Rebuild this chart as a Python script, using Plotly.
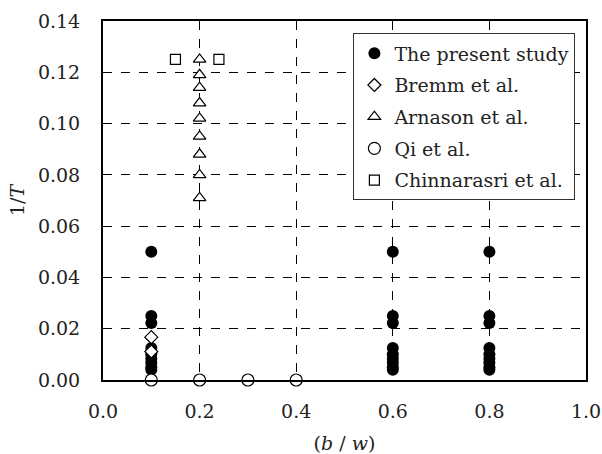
import plotly.graph_objects as go

# Data
present_x = [0.1]*9 + [0.6]*9 + [0.8]*9
present_y = [0.05, 0.025, 0.0222, 0.0125, 0.01, 0.0083, 0.0067, 0.005, 0.004]*3
bremm_x = [0.1, 0.1]
bremm_y = [0.0167, 0.0111]
arnason_x = [0.2]*9
arnason_y = [0.125, 0.119, 0.114, 0.108, 0.102, 0.095, 0.088, 0.080, 0.071]
qi_x = [0.1, 0.2, 0.3, 0.4]
qi_y = [0.0, 0.0, 0.0, 0.0]
chin_x = [0.15, 0.24]
chin_y = [0.125, 0.125]

x_ticks = [0.0, 0.2, 0.4, 0.6, 0.8, 1.0]
y_ticks = [0.0, 0.02, 0.04, 0.06, 0.08, 0.10, 0.12, 0.14]

FONT = "DejaVu Serif"

fig = go.Figure()
fig.add_trace(go.Scatter(x=present_x, y=present_y, mode="markers", name="The present study",
                         legendgroup="a",
                         marker=dict(symbol="circle", size=12, color="black", line=dict(width=0)),
                         cliponaxis=False))
fig.add_trace(go.Scatter(x=bremm_x, y=bremm_y, mode="markers", name="Bremm et al.",
                         legendgroup="b",
                         marker=dict(symbol="diamond", size=10, color="white", line=dict(color="black", width=1.2)),
                         cliponaxis=False))
fig.add_trace(go.Scatter(x=arnason_x, y=arnason_y, mode="markers", name="Arnason et al.",
                         legendgroup="c",
                         marker=dict(symbol="triangle-up", size=11, color="white", line=dict(color="black", width=1.2)),
                         cliponaxis=False))
fig.add_trace(go.Scatter(x=qi_x, y=qi_y, mode="markers", name="Qi et al.",
                         legendgroup="d",
                         marker=dict(symbol="circle", size=12, color="white", line=dict(color="black", width=1.2)),
                         cliponaxis=False))
fig.add_trace(go.Scatter(x=chin_x, y=chin_y, mode="markers", name="Chinnarasri et al.",
                         legendgroup="e",
                         marker=dict(symbol="square", size=10, color="white", line=dict(color="black", width=1.2)),
                         cliponaxis=False))

axis_common = dict(showline=True, linecolor="black", linewidth=2, mirror=True,
                   showgrid=True, gridcolor="black", gridwidth=1, griddash="dash",
                   zeroline=False, ticks="", tickfont=dict(family=FONT, size=19, color="#222"))

fig.update_layout(
    width=602, height=454,
    margin=dict(l=103, r=16, t=21, b=74, autoexpand=False),
    paper_bgcolor="white", plot_bgcolor="white",
    font=dict(family=FONT, size=19, color="#222"),
    showlegend=True,
    legend=dict(x=0.518, y=0.966, xanchor="left", yanchor="top",
                bordercolor="#333", borderwidth=1.2, bgcolor="white",
                font=dict(family=FONT, size=19, color="#222"),
                itemsizing="trace", traceorder="grouped", tracegroupgap=4, itemwidth=30),
    xaxis=dict(range=[0, 1.0], tickvals=x_ticks, tickformat=".1f", ticklabelstandoff=13,
               title=dict(text="(<i>b</i> / <i>w</i>)", font=dict(family=FONT, size=19), standoff=18),
               **axis_common),
    yaxis=dict(range=[0, 0.14], tickvals=y_ticks, tickformat=".2f", ticklabelstandoff=17,
               title=dict(text="1/<i>T</i>", font=dict(family=FONT, size=19), standoff=8),
               **axis_common),
)

fig.write_html("out.html")
